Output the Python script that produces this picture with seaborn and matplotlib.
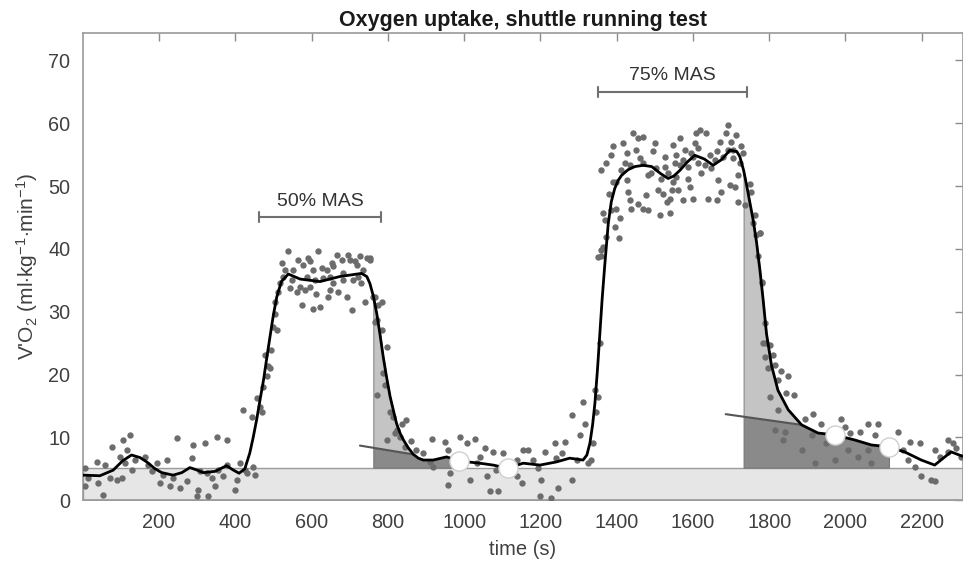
import numpy as np
import pandas as pd
import matplotlib
matplotlib.use("Agg")
import matplotlib.pyplot as plt
import seaborn as sns

# smoothed VO2 curve (time in s, ml/kg/min)
curve_t = [0, 45, 80, 105, 128, 150, 168, 190, 207, 237, 260, 281, 300, 316, 347, 377, 395, 410,
           425, 438, 447, 456, 465, 474, 483, 491, 500, 509, 521, 539, 570, 622, 674, 731, 745, 753,
           762, 771, 780, 788, 797, 806, 815, 823, 832, 841, 853, 867, 880, 893, 919, 954, 987,
           1041, 1076, 1114, 1155, 1199, 1242, 1277, 1312, 1322, 1330, 1337, 1343, 1350, 1356,
           1362, 1369, 1378, 1386, 1395, 1404, 1413, 1430, 1448, 1470, 1492, 1515, 1535, 1550,
           1566, 1585, 1605, 1630, 1653, 1675, 1697, 1715,
           1723, 1733, 1740, 1749, 1758, 1767, 1776, 1784, 1793, 1806, 1823, 1850, 1885, 1928,
           1972, 2024, 2068, 2114, 2155, 2199, 2234, 2277, 2307]
curve_v = [4.0, 3.9, 4.8, 6.3, 7.2, 6.8, 6.1, 5.0, 4.4, 4.0, 4.4, 5.2, 4.8, 4.4, 4.6, 5.5, 4.8, 4.3,
           5.0, 7.5, 10.0, 12.8, 16.0, 19.1, 22.8, 26.0, 29.5, 32.4, 34.8, 36.0, 35.2, 34.8, 35.6,
           36.1, 35.6, 34.5, 32.5, 29.7, 26.2, 22.8, 19.5, 16.5, 14.2, 12.2, 10.7, 9.6, 8.4, 7.3,
           6.7, 6.4, 6.4, 6.9, 6.25, 5.9, 5.6, 5.1, 5.9, 5.6, 6.1, 6.7, 6.4, 7.2, 9.1, 12.0, 15.4,
           21.0, 26.5, 32.0, 37.5, 44.0, 47.5, 49.6, 50.9, 51.7, 52.6, 53.1, 53.3, 53.1, 52.0,
           51.2, 51.6, 52.5, 53.8, 54.9, 54.3, 53.3, 54.2, 55.7, 55.5,
           54.7, 52.5, 50.4, 47.5, 44.6, 41.0, 36.5, 32.0, 26.5, 21.5, 17.5, 14.4,
           12.0, 10.7, 10.4, 9.6, 8.8, 8.5, 7.7, 6.4, 5.6, 7.7, 7.0]

# breath-by-breath samples
raw_t = [6, 14.7, 6, 36.6, 41, 58.4, 54, 76, 71.5, 89, 97.8, 102, 106.5, 115, 124, 128, 111, 137,
         163, 172, 181, 194, 203, 211, 220, 229, 238, 246, 255, 273, 286, 290, 299, 303, 307.5,
         321, 329, 325, 338, 347, 351, 356, 369, 377.4, 377.4, 399, 404, 412, 421, 425.5, 430,
         443, 447, 452, 456, 465, 469, 473.5, 478, 482, 491, 495, 487, 500, 504, 508.5, 504, 513,
         517, 522, 526, 539, 543.4, 552, 561, 565, 574, 578, 583, 591.5, 596, 604.5, 604.5, 613,
         618, 622, 626.5, 639.5, 644, 648, 652.6, 657, 666, 670, 679, 683, 692, 696, 701, 705,
         714, 718, 727, 736, 740, 744.4, 753, 762, 766,
         530, 548, 569.6, 587, 609, 631, 657, 683, 709.4, 731, 722.5, 596, 648,
         753, 766, 775, 784, 770.6, 784, 797, 770.6, 788, 792, 805.5, 814, 823, 836, 849, 797,
         818.6, 831.7, 862, 845, 875, 893, 915, 910, 919, 950, 958, 963, 958.5, 989, 1006.5,
         1015, 1028, 1033, 1041, 1054.5, 1059, 1068, 1089.5, 1076, 1085, 1102.6, 1137.6, 1137.6,
         1150.7, 1155, 1168, 1181, 1194, 1203, 1199, 1229, 1211.8, 1238, 1242, 1247, 1264,
         1255.5, 1282, 1282, 1295, 1303.6, 1312, 1316.7, 1325, 1334, 1338.5, 1343, 1347, 1351.7,
         1360, 1365,
         1356, 1351.6, 1360, 1364.7, 1369, 1373.4, 1386.5, 1395, 1399.6, 1408, 1406.6, 1360,
         1373.4, 1391, 1386.5, 1399.6, 1417, 1426, 1421.5, 1430, 1434.6, 1439, 1443.3, 1456.4,
         1469.5, 1452, 1461, 1456.4, 1469.5, 1478, 1482.6, 1491, 1496, 1500, 1509, 1513, 1522,
         1526, 1531, 1539, 1539, 1544, 1548, 1552.5, 1557, 1561, 1565.6, 1574, 1579, 1587.5,
         1592, 1596, 1600.6, 1605, 1609, 1614, 1618, 1635.5, 1640, 1644, 1662, 1662, 1666,
         1670.5, 1675, 1688, 1692, 1697, 1701, 1705.5, 1710, 1714, 1718.5, 1727, 1731.7, 1736,
         1749, 1753.5, 1758, 1762, 1766.6, 1775, 1771, 1780, 1788.5, 1793,
         1412.7, 1434.6, 1469.5, 1482.6, 1504.5, 1517.6, 1535, 1548, 1565.6, 1574, 1587.5,
         1600.6, 1614, 1622.4, 1631, 1648.7, 1657.4, 1679, 1692, 1705.5, 1723, 1718.5, 1526,
         1557, 1426, 1391, 1380.4,
         1775, 1780, 1784, 1801.5, 1788.5, 1810, 1797, 1815, 1832, 1850, 1823, 1845, 1865,
         1801.5, 1823.4, 1893, 1915, 1937, 1989.4, 1998, 2011.3, 2037.5, 2059.3, 2085.5, 2077,
         2138, 2168.5, 2195, 2234, 2269, 2282, 2291, 2247, 2164, 2181.7, 2199, 2234, 1841, 1815,
         1836.5, 1885, 1911, 1919.5, 1950, 1972, 2007, 2033, 2059, 2068, 2094, 2125, 2151, 2304,
         2269, 2225]
raw_v = [5.1, 3.5, 2.2, 6.1, 2.7, 5.6, 0.8, 8.5, 3.5, 3.2, 6.9, 3.5, 9.6, 8.0, 10.4, 4.8, 5.9, 6.4,
         6.9, 5.6, 4.6, 5.9, 2.7, 4.0, 6.4, 2.2, 3.5, 9.9, 1.9, 3.0, 6.7, 8.8, 0.6, 1.6, 4.6,
         9.1, 0.6, 4.3, 3.5, 2.2, 10.1, 4.8, 3.8, 9.6, 5.6, 1.6, 3.2, 5.9, 14.4, 4.8, 4.3,
         13.3, 5.3, 4.0, 16.2, 14.9, 14.1, 18.1, 23.1, 19.7, 21.0, 23.9, 21.3, 27.6, 29.7, 27.1,
         31.6, 33.2, 34.5, 37.7, 35.6, 39.6, 33.7, 36.6, 33.2, 38.2, 31.1, 37.4, 33.5, 38.5,
         38.0, 36.6, 30.5, 32.9, 39.6, 30.8, 36.9, 36.6, 32.4, 33.5, 37.7, 37.2, 39.0, 33.2,
         38.2, 35.0, 32.4, 39.0, 38.2, 30.3, 38.0, 37.4, 38.8, 36.6, 31.6, 38.5, 38.2, 32.4, 28.4,
         36.6, 35.0, 34.0, 35.6, 35.0, 35.3, 34.5, 36.1, 35.0, 34.5, 35.6, 34.0, 35.6,
         38.5, 32.4, 31.1, 31.6, 28.7, 27.1, 24.4, 16.7, 20.2, 18.3, 14.1, 13.3, 11.2, 12.2, 12.8,
         9.6, 10.7, 10.1, 9.5, 8.5, 8.0, 7.5, 9.7, 6.1, 5.3, 9.3, 8.0, 4.3, 2.4, 10.1, 9.1,
         3.2, 9.7, 5.9, 6.9, 8.3, 3.8, 1.4, 1.4, 7.7, 4.8, 7.5, 6.4, 3.8,
         2.7, 8.0, 8.0, 6.4, 5.1, 3.2, 0.6, 0.3, 7.7, 9.1, 6.7, 1.9, 9.3,
         7.5, 13.6, 3.2, 6.4, 10.4, 15.7, 12.2, 5.9, 6.4, 9.1, 17.5, 14.1, 16.5,
         38.8, 40.3,
         25.0, 38.7, 39.8, 45.7, 44.6, 41.9, 46.2, 43.5, 46.4, 44.9, 41.7, 52.5,
         53.6, 56.3, 54.9, 50.7, 56.8, 55.2, 53.6, 49.1, 47.8, 46.4, 58.4, 57.6,
         57.8, 55.7, 54.4, 47.2, 46.4, 48.6, 46.2, 52.0, 55.5, 56.8, 49.4, 45.4, 48.8,
         54.7, 47.5, 45.7, 48.0, 49.4, 56.5, 53.6, 54.9, 49.4, 57.6, 47.8, 55.7, 51.2,
         49.9, 55.2, 48.0, 56.8, 58.4, 53.6, 58.9, 58.4, 48.0, 54.9, 55.5, 47.8, 50.9,
         57.0, 49.1, 58.4, 59.7, 50.2, 57.0, 55.7, 49.9, 58.1, 47.5, 56.3, 55.2, 47.0,
         50.4, 49.1, 44.1, 45.4, 42.2, 42.5, 38.8, 34.8, 28.2, 25.0,
         52.5, 53.3, 53.6, 51.7, 52.8, 51.2, 52.0, 50.7, 53.3, 54.1, 53.1,
         54.7, 56.0, 52.0, 53.3, 52.8, 54.1, 54.7, 55.7, 54.4, 53.6, 51.7, 53.1,
         51.5, 50.9, 50.7, 48.8,
         42.5, 34.5, 25.0, 24.7, 22.8, 23.1, 21.0, 21.5, 20.5, 19.7, 19.1, 17.0, 16.8,
         16.5, 14.4, 13.0, 13.8, 12.2, 13.0, 11.7, 10.7, 10.9, 12.2, 12.2, 10.4,
         10.9, 9.3, 9.1, 8.0, 9.6, 9.1, 8.3, 6.9, 6.4, 5.3, 3.8, 3.0, 10.9, 11.2,
         9.6, 8.0, 10.4, 5.9, 9.1, 6.4, 8.0, 6.9, 8.0, 5.9, 8.5, 9.1, 8.0, 6.9,
         7.7, 3.2]

baseline = 5.2
# recovery episodes: shading start, fitted line (t0, v0, t1, v1), shading end
rec_start = [762, 1733]
rec_line = [(727, 8.7, 867, 7.3), (1686, 13.7, 1885, 12.0)]
rec_end = [987, 2114]

# open circles
circle_t = [987, 1114, 1972, 2114]
circle_v = [6.25, 5.1, 10.4, 8.5]

# stage brackets
stage_labels = ["50% MAS", "75% MAS"]
stage_from = [462, 1351]
stage_to = [782, 1743]
stage_y = [45, 65]

df_raw = pd.DataFrame({"t": raw_t, "v": raw_v})
df_curve = pd.DataFrame({"t": curve_t, "v": curve_v})

sns.set_style("white")
plt.rcParams["font.family"] = ["Liberation Sans", "DejaVu Sans"]
plt.rcParams["mathtext.fontset"] = "custom"
plt.rcParams["mathtext.rm"] = "Liberation Sans"
plt.rcParams["mathtext.it"] = "Liberation Sans:italic"

fig = plt.figure(figsize=(9.63, 5.64), dpi=100)
ax = fig.add_axes([0.0859, 0.113, 0.9136, 0.829])
xmax = 2307

# resting baseline band
ax.fill_between([0, xmax], 0, baseline, color="#e6e6e6", edgecolor="#9a9a9a",
                linewidth=1.0, zorder=1)

ct = np.array(curve_t, dtype=float)
cv = np.array(curve_v, dtype=float)
for s, (l0t, l0v, l1t, l1v), e in zip(rec_start, rec_line, rec_end):
    line_at = np.interp(ct, [l0t, l1t], [l0v, l1v])
    top = np.where(ct <= l1t, np.minimum(line_at, cv), cv)
    dark = (ct >= s) & (ct <= e)
    light = (ct >= s) & (ct <= l1t)
    ax.fill_between(ct, baseline, top, where=dark, color="#8a8a8a",
                    edgecolor="#777777", linewidth=0.8, zorder=2)
    ax.fill_between(ct, top, cv, where=light, color="#c4c4c4",
                    edgecolor="#8a8a8a", linewidth=0.8, zorder=2)
    ax.plot([l0t, l1t], [l0v, l1v], color="#555555", lw=1.5, zorder=3)

sns.scatterplot(data=df_raw, x="t", y="v", color="#6c6c6c", s=21, linewidth=0,
                ax=ax, zorder=4)
sns.lineplot(data=df_curve, x="t", y="v", color="black", lw=2.0, sort=False,
             estimator=None, ax=ax, zorder=5)
ax.scatter(circle_t, circle_v, s=190, color="white", edgecolor="#cfcfcf",
           linewidth=1.0, zorder=6)

# stage brackets with labels
for lab, a, b, y in zip(stage_labels, stage_from, stage_to, stage_y):
    ax.plot([a, b], [y, y], color="#707070", lw=1.5, zorder=3)
    ax.plot([a, a], [y - 0.8, y + 0.8], color="#707070", lw=1.5, zorder=3)
    ax.plot([b, b], [y - 0.8, y + 0.8], color="#707070", lw=1.5, zorder=3)
    ax.text((a + b) / 2, y + 1.2, lab, ha="center", va="bottom", fontsize=14,
            color="#333333")

ax.set_xlim(0, xmax)
ax.set_ylim(0, 74.4)
ax.set_xticks(range(200, 2201, 200))
ax.set_yticks(range(0, 71, 10))
ax.tick_params(direction="in", length=5.5, width=1.0, colors="#8c8c8c",
               labelcolor="#404040", labelsize=14.3, top=True, right=True, pad=9)
for sp in ax.spines.values():
    sp.set_color("#9a9a9a")
    sp.set_linewidth(1.2)
ax.set_xlabel("time (s)", fontsize=14.5, color="#404040", labelpad=6)
ax.set_ylabel("V'O$_2$ (ml$\\cdot$kg$^{-1}$$\\cdot$min$^{-1}$)", fontsize=15,
              color="#404040", labelpad=6)
ax.set_title("Oxygen uptake, shuttle running test", fontsize=15.5, fontweight="bold",
             color="#1a1a1a", pad=5)

fig.savefig("out.png", dpi=100)
